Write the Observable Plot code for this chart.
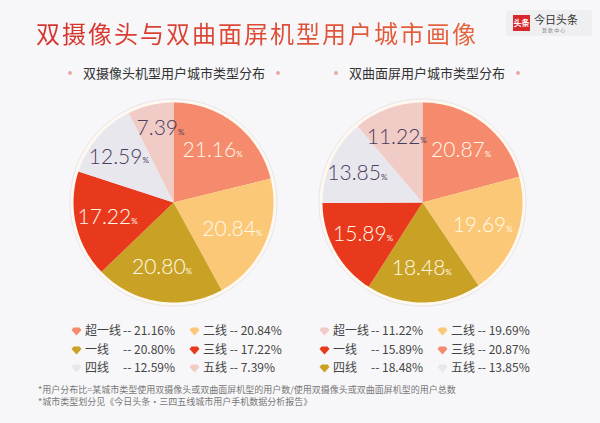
<!DOCTYPE html>
<html><head><meta charset="utf-8">
<script src="https://cdn.jsdelivr.net/npm/d3@7"></script>
<script src="https://cdn.jsdelivr.net/npm/@observablehq/plot@0.6"></script>
<style>
html,body{margin:0;padding:0;}
body{width:600px;height:423px;overflow:hidden;background:#f7f7f9;font-family:"Noto Sans CJK SC","Noto Sans",sans-serif;}
#page{position:relative;width:600px;height:423px;}
.abs{position:absolute;}
#title{left:36px;top:19px;font-size:24px;line-height:28px;letter-spacing:2px;white-space:nowrap;
 background:linear-gradient(90deg,#d5302c,#e4653f);-webkit-background-clip:text;background-clip:text;color:transparent;}
.sub{top:64px;width:240px;text-align:center;font-size:13px;line-height:17px;color:#333;white-space:nowrap;}
.sub .dot{display:inline-block;width:4px;height:4px;border-radius:2px;background:#eaa9a6;margin:0 11px;vertical-align:3px;}
#logo{left:506px;top:10px;width:86px;height:26px;background:#efeff1;border-radius:2px;}
#logo .box{position:absolute;left:7px;top:5px;width:17px;height:16px;background:#d8282c;color:#fff;font-size:8px;line-height:16px;text-align:center;font-weight:bold;}
#logo .name{position:absolute;left:28px;top:2px;font-size:11px;line-height:14px;color:#333;}
#logo .small{position:absolute;left:36px;top:16px;font-size:5px;line-height:7px;color:#888;}
.legend{top:321px;font-size:12px;color:#444;}
.legend .row{height:18.5px;line-height:18.5px;white-space:nowrap;}
.legend .cell{display:inline-block;}
.legend .c1{width:118px;}
.legend svg{vertical-align:-1px;margin-right:3px;}
.legend .nm1{display:inline-block;width:38px;}
#notes{left:38px;top:384px;font-size:9px;line-height:12px;color:#777;white-space:nowrap;}
</style>
</head><body><div id="page"></div>
<script>
// ---- data ----
const palette = ["#f58a6c", "#fbc878", "#c9a225", "#e9391d", "#e9e7ee", "#f1ccc6"];
const leftTitle = "双摄像头机型用户城市类型分布";
const leftSlices = ["超一线", "二线", "一线", "三线", "四线", "五线"];
const leftValues = [21.16, 20.84, 20.80, 17.22, 12.59, 7.39];
const rightTitle = "双曲面屏用户城市类型分布";
const rightSlices = ["三线", "二线", "四线", "一线", "五线", "超一线"];
const rightValues = [20.87, 19.69, 18.48, 15.89, 13.85, 11.22];
const legendOrder = ["超一线", "二线", "一线", "三线", "四线", "五线"];
const mainTitle = "双摄像头与双曲面屏机型用户城市画像";
const notes = ["*用户分布比=某城市类型使用双摄像头或双曲面屏机型的用户数/使用双摄像头或双曲面屏机型的用户总数",
               "*城市类型划分见《今日头条·三四五线城市用户手机数据分析报告》"];

const page = document.getElementById("page");
function el(tag, cls, html, style) {
  const e = document.createElement(tag);
  if (cls) e.className = cls;
  if (html != null) e.innerHTML = html;
  if (style) Object.assign(e.style, style);
  page.appendChild(e);
  return e;
}
el("div", "abs", mainTitle).id = "title";
const logo = el("div", "abs", '<div class="box">头条</div><div class="name">今日头条</div><div class="small">算 数 中 心</div>');
logo.id = "logo";

function circle(r) {
  const ring = [];
  for (let k = 0; k <= 360; k++) { const t = k * Math.PI / 180; ring.push([r * Math.sin(t), -r * Math.cos(t)]); }
  return {type: "Feature", properties: {}, geometry: {type: "Polygon", coordinates: [ring]}};
}

function pieChart(names, values) {
  const total = d3.sum(values);
  let acc = 0;
  const slices = values.map((v, i) => {
    const a0 = acc / total * 2 * Math.PI; acc += v;
    const a1 = acc / total * 2 * Math.PI;
    const steps = Math.max(2, Math.ceil((a1 - a0) / (Math.PI / 180)));
    const ring = [[0, 0]];
    for (let k = 0; k <= steps; k++) { const t = a0 + (a1 - a0) * k / steps; ring.push([Math.sin(t), -Math.cos(t)]); }
    ring.push([0, 0]);
    const mid = (a0 + a1) / 2;
    const lr = v < 10 ? 0.76 : v < 15 ? 0.70 : 0.66;
    return {type: "Feature",
      properties: {name: names[i], value: v, color: palette[i], lx: lr * Math.sin(mid), ly: -lr * Math.cos(mid),
                   ink: i >= 4 ? "#4b3d5c" : "#fffaea"},
      geometry: {type: "Polygon", coordinates: [ring]}};
  });
  return Plot.plot({
    width: 210, height: 210, margin: 0,
    style: {background: "transparent", overflow: "visible"},
    projection: {type: "identity", domain: circle(1.05)},
    color: {type: "identity"},
    marks: [
      Plot.geo([circle(1.035)], {fill: "#fdf9f1", stroke: "#e9e3e9", strokeWidth: 1}),
      Plot.geo(slices, {fill: d => d.properties.color}),
      Plot.text(slices, {x: d => d.properties.lx, y: d => d.properties.ly, text: d => d.properties.value.toFixed(2),
        fill: d => d.properties.ink, fontSize: 21, fontWeight: 300, textAnchor: "end", dx: 22,
        fontFamily: "Lato, 'Open Sans', 'Noto Sans', sans-serif"}),
      Plot.text(slices, {x: d => d.properties.lx, y: d => d.properties.ly, text: () => "%",
        fill: d => d.properties.ink, fontSize: 8, textAnchor: "start", dx: 22, dy: 4,
        fontFamily: "Lato, 'Noto Sans', sans-serif"})
    ]
  });
}

function gem(color) {
  return `<svg width="11" height="9" viewBox="-5.5 -4.5 11 9"><path d="M-5,-1.5 L-3,-4 L3,-4 L5,-1.5 L0,4 Z" fill="${color}"/></svg>`;
}

function legend(names, values, left) {
  const lut = new Map(names.map((n, i) => [n, {v: values[i], c: palette[i]}]));
  let html = "";
  for (let r = 0; r < 3; r++) {
    const a = legendOrder[r * 2], b = legendOrder[r * 2 + 1];
    const A = lut.get(a), B = lut.get(b);
    html += `<div class="row"><span class="cell c1">${gem(A.c)}<span class="nm1">${a}</span>-- ${A.v.toFixed(2)}%</span>` +
            `<span class="cell">${gem(B.c)}${b} -- ${B.v.toFixed(2)}%</span></div>`;
  }
  el("div", "abs legend", html, {left: left + "px"});
}

function sub(text, cx) {
  el("div", "abs sub", `<span class="dot"></span>${text}<span class="dot"></span>`, {left: (cx - 120) + "px"});
}

sub(leftTitle, 174);
sub(rightTitle, 427);

const p1 = pieChart(leftSlices, leftValues);
Object.assign(p1.style, {position: "absolute", left: "68px", top: "97px"});
page.appendChild(p1);
const p2 = pieChart(rightSlices, rightValues);
Object.assign(p2.style, {position: "absolute", left: "317px", top: "97px"});
page.appendChild(p2);

legend(leftSlices, leftValues, 71);
legend(rightSlices, rightValues, 319);

el("div", "abs", notes.join("<br>")).id = "notes";
</script>
</body></html>
